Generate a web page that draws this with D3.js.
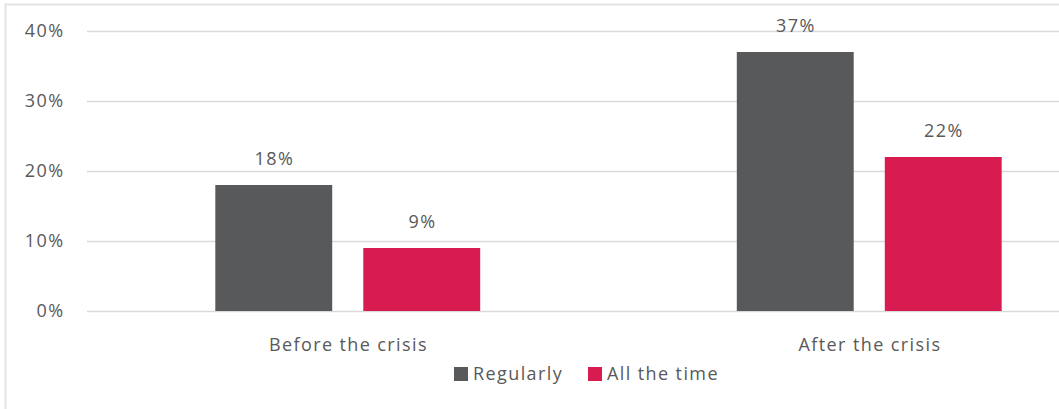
<!DOCTYPE html>
<html>
<head>
<meta charset="utf-8">
<script src="https://cdn.jsdelivr.net/npm/d3@7"></script>
<style>
  body { margin: 0; background: #fff; }
  svg { display: block; }
  text { font-family: "Open Sans", sans-serif; fill: #595959; letter-spacing: 1.4px; }
</style>
</head>
<body>
<div id="Vis"></div>
<script>
// chart data
var categories = ["Before the crisis", "After the crisis"];
var seriesNames = ["Regularly", "All the time"];
var regularly = [18, 37];
var allTheTime = [9, 22];
var yTicks = [0, 10, 20, 30, 40];

var colors = ["#58595b", "#d81b50"];

var W = 1059, H = 409;
var margin = {top: 31, left: 87, bottom: 98};
var plotRight = 1130; // the plot area runs past the right edge of the picture

var svg = d3.select("#Vis")
  .append("svg")
    .attr("width", W)
    .attr("height", H);

// light frame
svg.append("rect")
  .attr("x", 5.5).attr("y", 4.5)
  .attr("width", W + 20).attr("height", H + 20)
  .attr("fill", "none")
  .attr("stroke", "#e3e3e3")
  .attr("stroke-width", 2);

var y = d3.scaleLinear()
  .domain([0, 40])
  .range([H - margin.bottom, margin.top]);

var x0 = d3.scaleBand()
  .domain(categories)
  .range([margin.left, plotRight])
  .paddingInner(0)
  .paddingOuter(0);

var x1 = d3.scaleBand()
  .domain(seriesNames)
  .range([0, x0.bandwidth()])
  .paddingInner(0.21)
  .paddingOuter(0.867);

// gridlines
svg.append("g")
  .selectAll("line")
  .data(yTicks)
  .enter().append("line")
    .attr("x1", margin.left)
    .attr("x2", plotRight)
    .attr("y1", function(d) { return y(d) + 0.5; })
    .attr("y2", function(d) { return y(d) + 0.5; })
    .attr("stroke", "#d9d9d9")
    .attr("stroke-width", 1.3);

// y labels
svg.append("g")
  .selectAll("text")
  .data(yTicks)
  .enter().append("text")
    .attr("x", 64.5)
    .attr("y", function(d) { return y(d); })
    .attr("dy", "0.36em")
    .attr("text-anchor", "end")
    .attr("font-size", "18px")
    .text(function(d) { return d + "%"; });

var rows = [];
categories.forEach(function(c, i) {
  rows.push({cat: c, s: seriesNames[0], v: regularly[i], k: 0});
  rows.push({cat: c, s: seriesNames[1], v: allTheTime[i], k: 1});
});

var bars = svg.append("g");
bars.selectAll("rect")
  .data(rows)
  .enter().append("rect")
    .attr("x", function(d) { return x0(d.cat) + x1(d.s); })
    .attr("y", function(d) { return y(d.v); })
    .attr("width", x1.bandwidth())
    .attr("height", function(d) { return y(0) - y(d.v); })
    .attr("fill", function(d) { return colors[d.k]; });

// value labels
svg.append("g")
  .selectAll("text")
  .data(rows)
  .enter().append("text")
    .attr("x", function(d) { return x0(d.cat) + x1(d.s) + x1.bandwidth() / 2 + 0.7; })
    .attr("y", function(d) { return y(d.v) - 20; })
    .attr("text-anchor", "middle")
    .attr("font-size", "18px")
    .text(function(d) { return d.v + "%"; });

// category labels
svg.append("g")
  .selectAll("text")
  .data(categories)
  .enter().append("text")
    .attr("x", function(d) { return x0(d) + x0.bandwidth() / 2 + 0.7; })
    .attr("y", 351)
    .attr("text-anchor", "middle")
    .attr("font-size", "18px")
    .text(function(d) { return d; });

// legend
var legendX = [454, 588];
var legend = svg.append("g");
seriesNames.forEach(function(s, i) {
  legend.append("rect")
    .attr("x", legendX[i]).attr("y", 367)
    .attr("width", 14).attr("height", 14)
    .attr("fill", colors[i]);
  legend.append("text")
    .attr("x", legendX[i] + 19).attr("y", 374)
    .attr("dy", "0.36em")
    .attr("font-size", "18px")
    .text(s);
});
</script>
</body>
</html>
